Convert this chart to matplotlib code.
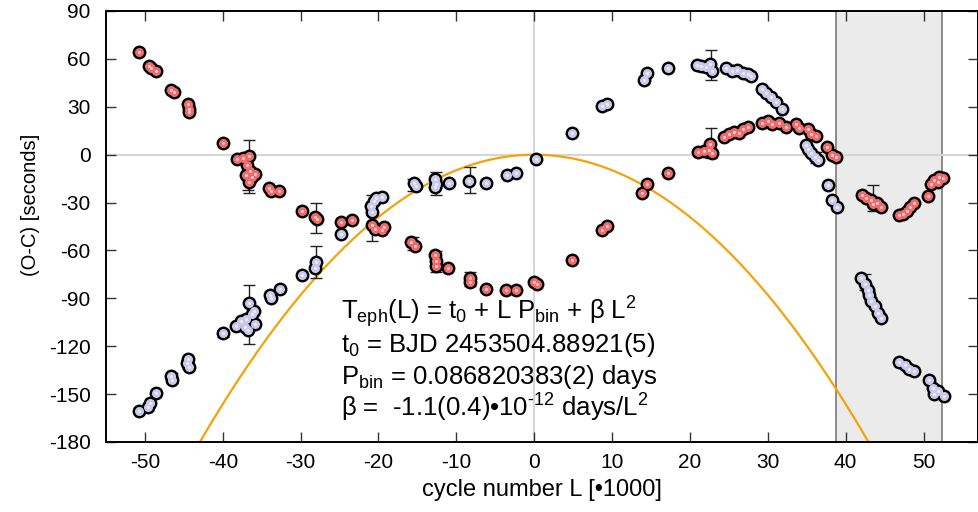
import numpy as np
import matplotlib
matplotlib.use('Agg')
import matplotlib.pyplot as plt

plt.rcParams['font.family'] = ['Liberation Sans', 'DejaVu Sans']
plt.rcParams['mathtext.fontset'] = 'custom'
plt.rcParams['mathtext.rm'] = 'Liberation Sans'
plt.rcParams['mathtext.it'] = 'Liberation Sans'
plt.rcParams['mathtext.bf'] = 'Liberation Sans:bold'
plt.rcParams['axes.unicode_minus'] = False

# cycle number L (in units of 1000) and O-C in seconds
red_L = [-50.7, -49.5, -49.2, -48.6, -46.6, -46.3, -44.5, -44.4, -44.3, -40.0,
         -38.2, -37.4, -36.6, -36.9, -36.5, -37.0, -36.2, -35.8, -36.6, -34.0,
         -33.8, -32.8, -29.8, -28.2, -27.9, -24.8, -23.4, -20.8, -20.5, -19.6,
         -19.3, -15.8, -15.3, -12.7, -12.6, -12.6, -11.1, -8.3, -8.2, -6.2,
         -3.6, -2.4, 0.0, 0.3, 4.9, 8.7, 9.3, 13.9, 14.5, 17.2,
         21.0, 21.8, 22.5, 22.6, 22.8, 24.4, 25.0, 25.6, 26.3, 26.8,
         27.5, 29.3, 30.0, 30.6, 31.4, 32.3, 33.6, 34.0, 35.2, 35.6,
         36.2, 37.6, 38.3, 38.8, 42.1, 42.6, 43.2, 43.5, 44.0, 44.5,
         46.9, 47.4, 47.9, 48.3, 48.8, 50.6, 51.0, 51.4, 52.0, 52.5, 51.8]
red_oc = [64.5, 55.5, 54, 52.5, 40.5, 39.5, 31.5, 28.5, 27, 7.5,
          -2.5, -2, -1, -6.5, -10, -13, -14, -12, -17, -21,
          -23, -23, -35.5, -39, -40.5, -42, -41, -44, -46.5, -47,
          -45.5, -54.5, -57.5, -63, -66.5, -70, -71, -77, -79.5, -84,
          -85, -85, -79.5, -81, -66, -47, -45, -24, -18.5, -11.5,
          1.5, 2.5, 3, 6.5, 1, 11, 13, 14, 13.5, 16,
          17.5, 20, 21, 19.5, 20, 17.5, 19.5, 17, 16, 13,
          12, 4.5, -0.5, -1.5, -25, -27, -28.5, -31, -30, -33,
          -38, -37, -35, -33, -30, -26, -18.5, -16, -14, -14.5, -17]

blue_L = [-50.8, -49.6, -49.4, -48.6, -46.6, -46.5, -44.5, -44.6, -44.4, -40.0,
          -38.3, -37.6, -37.0, -36.6, -36.3, -36.0, -37.2, -36.8, -35.8, -33.8,
          -33.9, -32.7, -29.8, -28.2, -28.0, -24.8, -21.0, -20.8, -20.6, -20.3,
          -19.5, -15.5, -15.2, -12.7, -12.6, -12.7, -11.0, -8.4, -6.2, -3.5,
          -2.4, 0.2, 4.9, 8.7, 9.3, 14.1, 14.5, 17.2, 20.9, 21.4,
          22.0, 22.6, 22.8, 24.6, 25.4, 26.0, 26.8, 27.4, 27.9, 29.3,
          29.8, 30.4, 31.0, 31.8, 34.9, 35.2, 35.6, 36.0, 36.4, 37.7,
          38.3, 38.9, 42.0, 42.5, 42.9, 43.0, 43.3, 43.8, 44.2, 44.5,
          46.9, 47.6, 48.2, 48.8, 50.7, 51.2, 51.9, 52.6, 51.4]
blue_oc = [-160.5, -158, -155.5, -149.5, -138.5, -141, -128, -130.5, -133, -112,
           -107.5, -104, -103, -93, -100, -98, -108, -110, -106, -90,
           -88, -84, -75.5, -71, -67, -50, -32, -36, -29, -27,
           -26.5, -18, -19.5, -15.5, -18.5, -20, -18, -16.5, -18, -13,
           -11.5, -3, 13.5, 30.5, 32, 47, 51, 54.5, 56, 55.5,
           55, 56.5, 52.5, 54, 52.5, 53, 51, 50.5, 49, 41,
           38.5, 36, 33, 28.5, 6, 3.5, 1, -1.5, -3.5, -19,
           -28.5, -32.5, -77, -81, -85, -88, -91.5, -95, -99, -102.5,
           -130, -132, -134.5, -135.5, -141, -146, -148, -151, -150]

# points that show error bars
red_err_L = [-36.6, -36.8, -28.0, -20.8, -15.6, -12.6, -8.3, 22.7, 43.5]
red_err_oc = [-7.5, -12, -39.5, -46, -55.5, -67, -78, 7.5, -27]
red_err = [16.5, 10, 9.5, 8, 4, 6.5, 4.5, 9.5, 8]

blue_err_L = [-46.5, -44.5, -40.0, -36.6, -28.0, -20.8, -15.6, -12.6, -8.3, 22.7, 36.2, 42.5]
blue_err_oc = [-140, -130.5, -112, -100, -67, -31, -19, -18, -16, 56, -2, -80]
blue_err = [3, 3.5, 2, 18.5, 10, 6, 4, 7, 8, 9.5, 3.5, 5]

# quadratic ephemeris term beta*L^2, converted to seconds
beta_days = -1.13e-12
shade_L = (38.7, 52.4)

fig = plt.figure(figsize=(9.79, 5.12), dpi=100)
ax = fig.add_axes([106 / 979, 1 - 442 / 512, 872 / 979, 431 / 512])

ax.axvspan(shade_L[0], shade_L[1], facecolor='#ebebeb', edgecolor='#7a7a7a', lw=1.2, zorder=0)
ax.axhline(0, color='#d6d6d6', lw=1.5, zorder=0.5)
ax.axvline(0, color='#d6d6d6', lw=1.5, zorder=0.5)

Lc = np.linspace(-55, 57, 400)
ax.plot(Lc, beta_days * (Lc * 1000) ** 2 * 86400, color='#f5a20a', lw=1.6, zorder=1)

ax.errorbar(blue_err_L, blue_err_oc, yerr=blue_err, fmt='none', ecolor='#222222',
            elinewidth=1.0, capsize=4.5, capthick=1.0, zorder=2)
ax.errorbar(red_err_L, red_err_oc, yerr=red_err, fmt='none', ecolor='#222222',
            elinewidth=1.0, capsize=4.5, capthick=1.0, zorder=2)

for L, oc, fill, core, z in [(blue_L, blue_oc, '#c9c9e8', '#ececf8', 3),
                             (red_L, red_oc, '#f06c6c', '#f8cccc', 6)]:
    ax.plot(L, oc, 'o', ms=10, color='black', mew=0, zorder=z)
    ax.plot(L, oc, 'o', ms=6.5, color=fill, mew=0, zorder=z + 1)
    ax.plot(L, oc, 'o', ms=2.2, color=core, mew=0, zorder=z + 2)

ax.set_xlim(-55, 57)
ax.set_ylim(-180, 90)
ax.set_xticks(np.arange(-50, 51, 10))
ax.set_yticks(np.arange(-180, 91, 30))
ax.tick_params(direction='in', length=7, width=1, color='#333333',
               top=True, right=True, labelsize=15)
ax.tick_params(axis='x', pad=8)
ax.tick_params(axis='y', pad=11)
for s in ax.spines.values():
    s.set_linewidth(1.4)

ax.set_xlabel('cycle number L [•1000]', fontsize=17)
ax.set_ylabel('(O-C) [seconds]', fontsize=14.5)
ax.xaxis.set_label_coords(0.5, -0.085)
ax.yaxis.set_label_coords(-0.076, 0.55)

eq_lines = [r'T$_{\rm eph}$(L) = t$_0$ + L P$_{\rm bin}$ + β L$^2$',
            r't$_0$ = BJD 2453504.88921(5)',
            r'P$_{\rm bin}$ = 0.086820383(2) days',
            r'β =  -1.1(0.4)•10$^{\text{-12}}$ days/L$^2$']
eq_y = [0.285, 0.2095, 0.1346, 0.0587]
for line, yy in zip(eq_lines, eq_y):
    ax.text(0.269, yy, line, transform=ax.transAxes, fontsize=18.5,
            va='baseline', ha='left', zorder=10)

fig.savefig('out.png', dpi=100)
